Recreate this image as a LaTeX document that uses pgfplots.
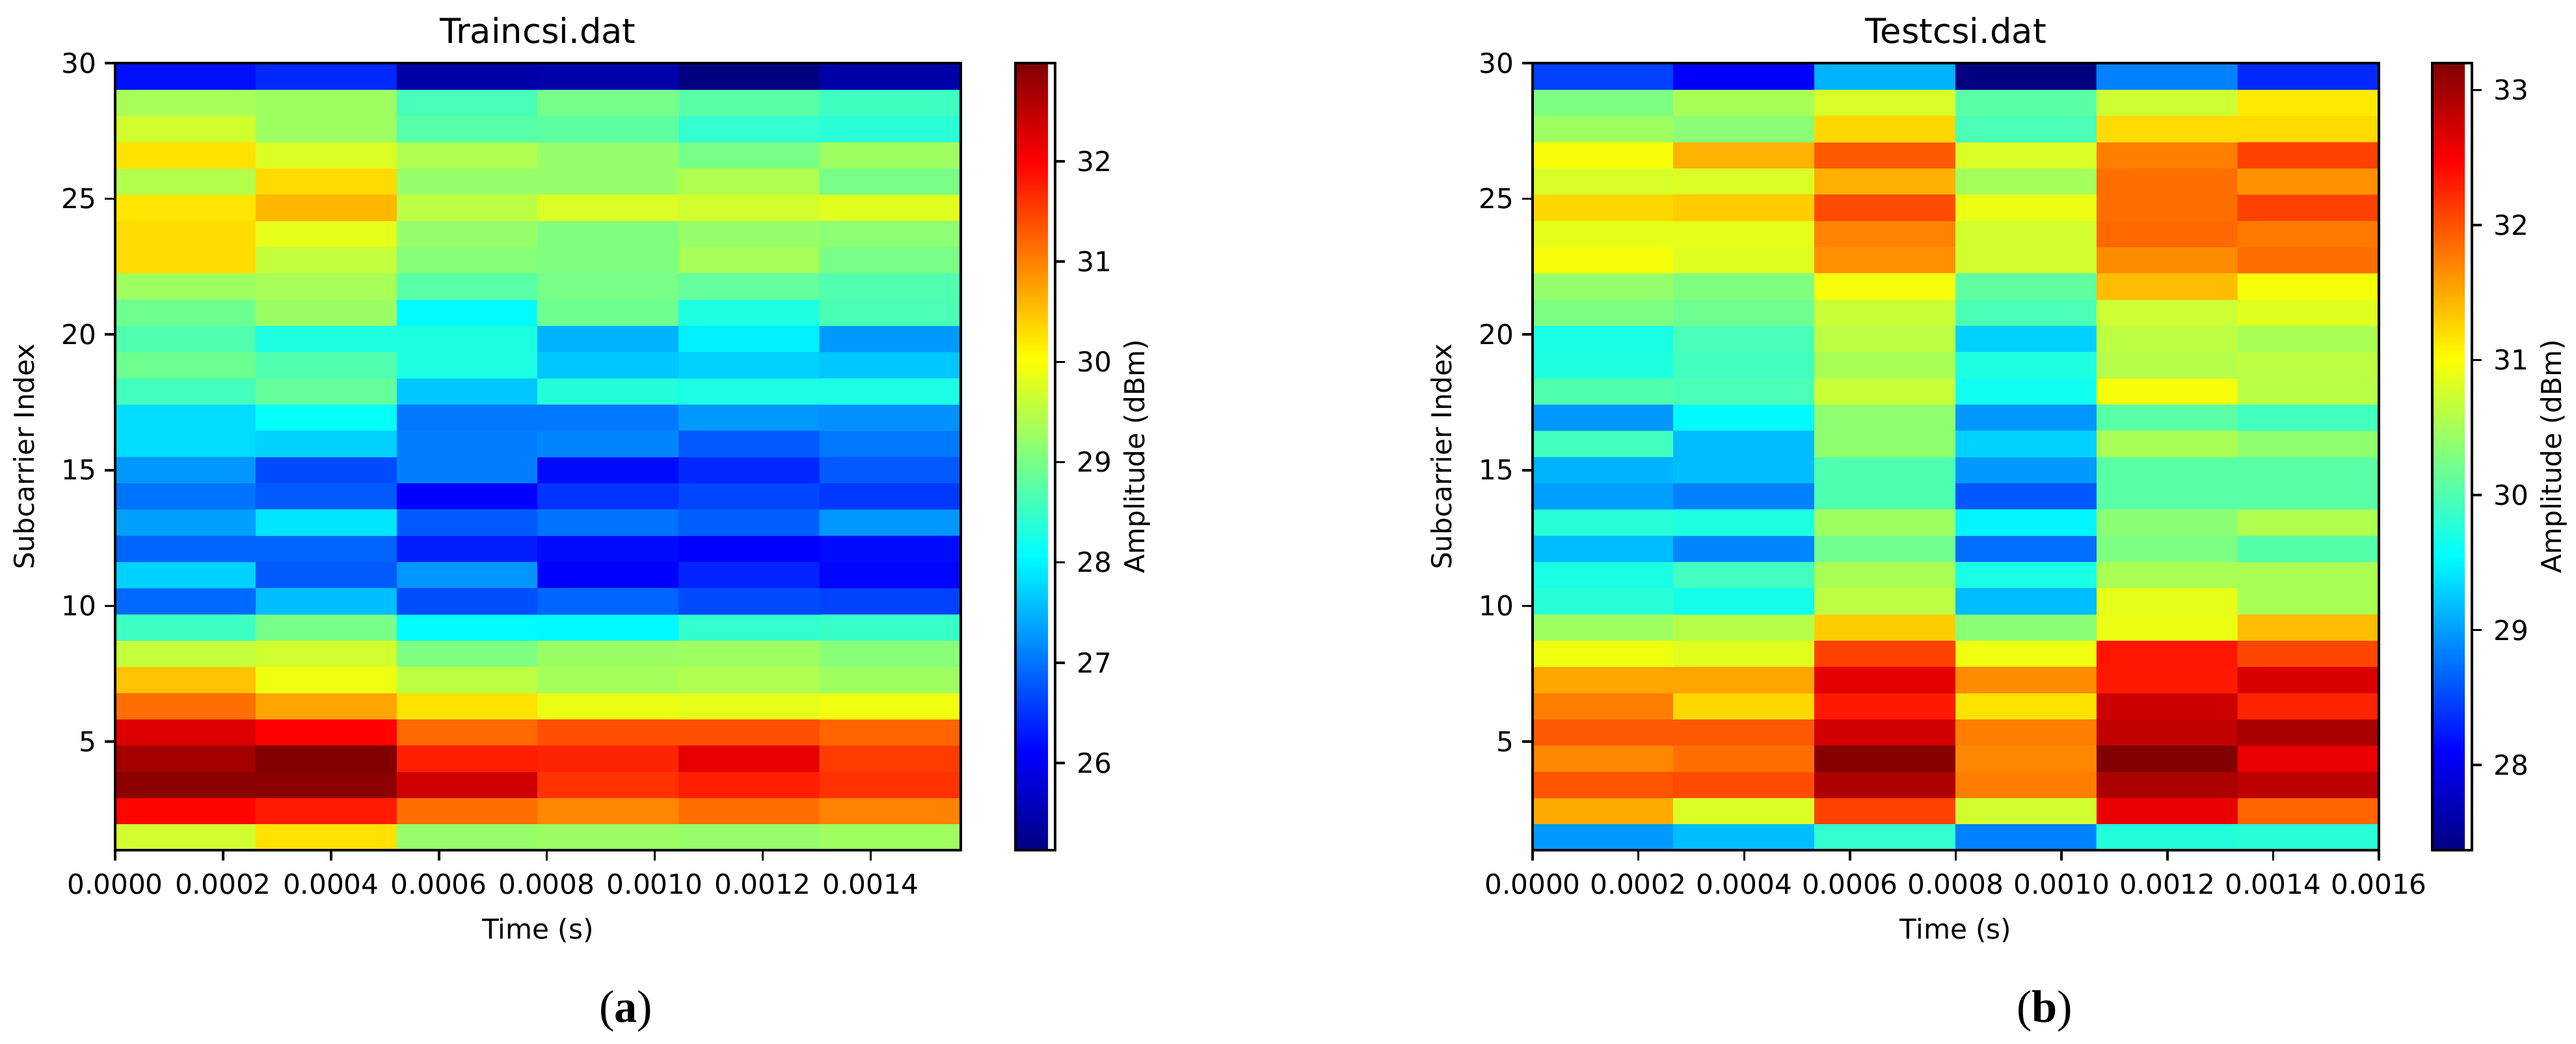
\documentclass[border=0pt]{standalone}
\usepackage{pgfplots}
\pgfplotsset{compat=1.18}
\usepackage{fontspec}
\setmainfont{DejaVu Sans}
\newfontfamily\capfont{Liberation Serif}

\pgfplotsset{
  heat/.style={
    scale only axis, anchor=south west,
    height=12.10cm,
    ymin=1, ymax=30,
    axis on top,
    colormap/jet,
    ytick={5,10,15,20,25,30},
    scaled x ticks=false,
    /pgf/number format/assume math mode=true,
    tick label style={font=\fontsize{12}{14}\selectfont},
    xticklabel style={yshift=-0.08cm, /pgf/number format/.cd, fixed, fixed zerofill, precision=4},
    tick align=outside, tick pos=left,
    major tick length=0.16cm,
    axis line style={line width=1pt},
    every tick/.style={line width=1pt, black},
    every axis title/.style={font=\fontsize{15}{18}\selectfont, at={(axis description cs:0.5,1)}, anchor=base, yshift=0.30cm},
    xlabel={Time (s)}, ylabel={Subcarrier Index},
    every axis x label/.style={at={(axis description cs:0.5,0)}, anchor=center, yshift=-1.23cm, font=\fontsize{12}{14}\selectfont},
    every axis y label/.style={at={(axis description cs:0,0.5)}, xshift=-1.40cm, rotate=90, anchor=center, font=\fontsize{12}{14}\selectfont},
    colorbar right,
    colorbar shift/.style={},
  },
  cbar/.style={
    at={(parent axis.north east)}, anchor=north west,
    scale only axis, width=0.61cm, height=12.10cm,
    ytick pos=right, yticklabel pos=right,
    tick align=outside, major tick length=0.15cm,
    axis line style={line width=1pt},
    every tick/.style={line width=1pt, black},
    /pgf/number format/assume math mode=true,
    yticklabel style={font=\fontsize{12}{14}\selectfont, xshift=0.06cm},
    ylabel={Amplitude (dBm)},
    every axis y label/.style={at={(axis description cs:1,0.5)}, xshift=1.26cm, rotate=90, anchor=center, font=\fontsize{12}{14}\selectfont},
  },
}

\begin{document}
\begin{tikzpicture}
\path[use as bounding box] (0,0) rectangle (39.6cm,16.04cm);

% ---------------- (a) Traincsi.dat ----------------
\begin{axis}[heat,
  at={(1.77cm,2.97cm)}, width=13.0cm,
  xmin=0, xmax=0.001567,
  xtick={0,0.0002,0.0004,0.0006,0.0008,0.0010,0.0012,0.0014},
  title={Traincsi.dat},
  point meta min=25.13, point meta max=32.98,
  colorbar style={cbar, xshift=0.84cm, ytick={26,27,28,29,30,31,32}},
]
\addplot[matrix plot*, mesh/cols=6, point meta=explicit]
  table[row sep=\\, x expr={(\thisrow{c}+0.5)*0.00026117}, y expr={1+(\thisrow{j}+0.5)*29/30}, meta=v]{
c j v\\
0 0 29.68\\ 1 0 30.26\\ 2 0 29.23\\ 3 0 29.27\\ 4 0 29.23\\ 5 0 29.29\\
0 1 31.96\\ 1 1 31.80\\ 2 1 31.15\\ 3 1 30.96\\ 4 1 31.15\\ 5 1 31.00\\
0 2 32.89\\ 1 2 32.89\\ 2 2 32.35\\ 3 2 31.61\\ 4 2 31.76\\ 5 2 31.61\\
0 3 32.70\\ 1 3 32.98\\ 2 3 31.76\\ 3 3 31.72\\ 4 3 32.18\\ 5 3 31.54\\
0 4 32.27\\ 1 4 31.98\\ 2 4 31.19\\ 3 4 31.39\\ 4 4 31.39\\ 5 4 31.23\\
0 5 31.15\\ 1 5 30.73\\ 2 5 30.26\\ 3 5 29.88\\ 4 5 29.84\\ 5 5 29.92\\
0 6 30.50\\ 1 6 29.92\\ 2 6 29.53\\ 3 6 29.35\\ 4 6 29.42\\ 5 6 29.29\\
0 7 29.58\\ 1 7 29.68\\ 2 7 29.04\\ 3 7 29.27\\ 4 7 29.29\\ 5 7 29.11\\
0 8 28.54\\ 1 8 29.00\\ 2 8 28.05\\ 3 8 28.03\\ 4 8 28.46\\ 5 8 28.50\\
0 9 26.92\\ 1 9 27.57\\ 2 9 26.72\\ 3 9 26.88\\ 4 9 26.69\\ 5 9 26.61\\
0 10 27.73\\ 1 10 26.80\\ 2 10 27.27\\ 3 10 26.11\\ 4 10 26.38\\ 5 10 26.15\\
0 11 26.88\\ 1 11 26.88\\ 2 11 26.34\\ 3 11 26.19\\ 4 11 26.11\\ 5 11 26.19\\
0 12 27.34\\ 1 12 27.88\\ 2 12 26.80\\ 3 12 27.00\\ 4 12 26.84\\ 5 12 27.27\\
0 13 27.00\\ 1 13 26.80\\ 2 13 26.11\\ 3 13 26.50\\ 4 13 26.65\\ 5 13 26.54\\
0 14 27.27\\ 1 14 26.69\\ 2 14 27.08\\ 3 14 26.19\\ 4 14 26.42\\ 5 14 26.80\\
0 15 27.81\\ 1 15 27.73\\ 2 15 27.08\\ 3 15 27.15\\ 4 15 26.80\\ 5 15 27.04\\
0 16 27.81\\ 1 16 28.11\\ 2 16 27.04\\ 3 16 27.04\\ 4 16 27.30\\ 5 16 27.23\\
0 17 28.58\\ 1 17 28.84\\ 2 17 27.64\\ 3 17 28.35\\ 4 17 28.27\\ 5 17 28.27\\
0 18 28.92\\ 1 18 28.69\\ 2 18 28.30\\ 3 18 27.64\\ 4 18 27.73\\ 5 18 27.64\\
0 19 28.69\\ 1 19 28.30\\ 2 19 28.30\\ 3 19 27.49\\ 4 19 27.96\\ 5 19 27.30\\
0 20 28.92\\ 1 20 29.27\\ 2 20 28.05\\ 3 20 28.92\\ 4 20 28.30\\ 5 20 28.65\\
0 21 29.29\\ 1 21 29.37\\ 2 21 28.76\\ 3 21 29.00\\ 4 21 28.84\\ 5 21 28.69\\
0 22 30.31\\ 1 22 29.58\\ 2 22 29.11\\ 3 22 29.06\\ 4 22 29.37\\ 5 22 29.00\\
0 23 30.31\\ 1 23 29.84\\ 2 23 29.23\\ 3 23 29.06\\ 4 23 29.23\\ 5 23 29.15\\
0 24 30.23\\ 1 24 30.59\\ 2 24 29.53\\ 3 24 29.76\\ 4 24 29.68\\ 5 24 29.80\\
0 25 29.45\\ 1 25 30.31\\ 2 25 29.23\\ 3 25 29.23\\ 4 25 29.42\\ 5 25 29.00\\
0 26 30.26\\ 1 26 29.76\\ 2 26 29.42\\ 3 26 29.23\\ 4 26 29.00\\ 5 26 29.29\\
0 27 29.68\\ 1 27 29.29\\ 2 27 28.74\\ 3 27 28.80\\ 4 27 28.46\\ 5 27 28.38\\
0 28 29.37\\ 1 28 29.29\\ 2 28 28.62\\ 3 28 28.98\\ 4 28 28.76\\ 5 28 28.54\\
0 29 26.23\\ 1 29 26.43\\ 2 29 25.44\\ 3 29 25.48\\ 4 29 25.13\\ 5 29 25.44\\
};
\end{axis}

% ---------------- (b) Testcsi.dat ----------------
\begin{axis}[heat,
  at={(23.56cm,2.97cm)}, width=13.01cm,
  xmin=0, xmax=0.0016,
  xtick={0,0.0002,0.0004,0.0006,0.0008,0.0010,0.0012,0.0014,0.0016},
  title={Testcsi.dat},
  point meta min=27.37, point meta max=33.20,
  colorbar style={cbar, xshift=0.82cm, ytick={28,29,30,31,32,33}},
]
\addplot[matrix plot*, mesh/cols=6, point meta=explicit]
  table[row sep=\\, x expr={(\thisrow{c}+0.5)*0.00026667}, y expr={1+(\thisrow{j}+0.5)*29/30}, meta=v]{
c j v\\
0 0 28.98\\ 1 0 29.18\\ 2 0 29.84\\ 3 0 28.84\\ 4 0 29.76\\ 5 0 29.78\\
0 1 31.50\\ 1 1 30.81\\ 2 1 32.10\\ 3 1 30.75\\ 4 1 32.59\\ 5 1 31.90\\
0 2 31.99\\ 1 2 32.04\\ 2 2 32.94\\ 3 2 31.75\\ 4 2 32.94\\ 5 2 32.85\\
0 3 31.70\\ 1 3 31.84\\ 2 3 33.16\\ 3 3 31.70\\ 4 3 33.20\\ 5 3 32.59\\
0 4 31.96\\ 1 4 31.96\\ 2 4 32.73\\ 3 4 31.75\\ 4 4 32.82\\ 5 4 32.97\\
0 5 31.75\\ 1 5 31.24\\ 2 5 32.33\\ 3 5 31.18\\ 4 5 32.76\\ 5 5 32.27\\
0 6 31.53\\ 1 6 31.53\\ 2 6 32.62\\ 3 6 31.67\\ 4 6 32.33\\ 5 6 32.68\\
0 7 30.93\\ 1 7 30.84\\ 2 7 32.10\\ 3 7 30.93\\ 4 7 32.35\\ 5 7 32.07\\
0 8 30.46\\ 1 8 30.59\\ 2 8 31.30\\ 3 8 30.35\\ 4 8 30.90\\ 5 8 31.39\\
0 9 29.78\\ 1 9 29.67\\ 2 9 30.63\\ 3 9 29.18\\ 4 9 30.87\\ 5 9 30.53\\
0 10 29.70\\ 1 10 29.93\\ 2 10 30.53\\ 3 10 29.70\\ 4 10 30.53\\ 5 10 30.53\\
0 11 29.18\\ 1 11 28.87\\ 2 11 30.19\\ 3 11 28.73\\ 4 11 30.27\\ 5 11 30.04\\
0 12 29.78\\ 1 12 29.73\\ 2 12 30.46\\ 3 12 29.50\\ 4 12 30.35\\ 5 12 30.56\\
0 13 29.01\\ 1 13 28.84\\ 2 13 30.01\\ 3 13 28.61\\ 4 13 30.07\\ 5 13 30.07\\
0 14 29.12\\ 1 14 29.18\\ 2 14 30.01\\ 3 14 28.98\\ 4 14 30.07\\ 5 14 30.07\\
0 15 29.93\\ 1 15 29.18\\ 2 15 30.38\\ 3 15 29.30\\ 4 15 30.53\\ 5 15 30.38\\
0 16 28.96\\ 1 16 29.53\\ 2 16 30.38\\ 3 16 28.96\\ 4 16 30.07\\ 5 16 29.93\\
0 17 30.01\\ 1 17 29.98\\ 2 17 30.70\\ 3 17 29.64\\ 4 17 30.96\\ 5 17 30.61\\
0 18 29.73\\ 1 18 29.93\\ 2 18 30.53\\ 3 18 29.73\\ 4 18 30.59\\ 5 18 30.63\\
0 19 29.70\\ 1 19 29.96\\ 2 19 30.63\\ 3 19 29.30\\ 4 19 30.63\\ 5 19 30.53\\
0 20 30.27\\ 1 20 30.19\\ 2 20 30.70\\ 3 20 29.98\\ 4 20 30.73\\ 5 20 30.84\\
0 21 30.41\\ 1 21 30.29\\ 2 21 30.96\\ 3 21 30.10\\ 4 21 31.39\\ 5 21 30.96\\
0 22 30.96\\ 1 22 30.84\\ 2 22 31.64\\ 3 22 30.75\\ 4 22 31.67\\ 5 22 31.84\\
0 23 30.87\\ 1 23 30.87\\ 2 23 31.73\\ 3 23 30.75\\ 4 23 31.87\\ 5 23 31.78\\
0 24 31.24\\ 1 24 31.30\\ 2 24 32.04\\ 3 24 30.90\\ 4 24 31.84\\ 5 24 32.10\\
0 25 30.79\\ 1 25 30.81\\ 2 25 31.47\\ 3 25 30.50\\ 4 25 31.84\\ 5 25 31.64\\
0 26 30.96\\ 1 26 31.45\\ 2 26 31.96\\ 3 26 30.81\\ 4 26 31.75\\ 5 26 32.10\\
0 27 30.46\\ 1 27 30.35\\ 2 27 31.24\\ 3 27 29.98\\ 4 27 31.22\\ 5 27 31.22\\
0 28 30.27\\ 1 28 30.53\\ 2 28 30.79\\ 3 28 30.07\\ 4 28 30.73\\ 5 28 31.13\\
0 29 28.47\\ 1 29 28.08\\ 2 29 29.12\\ 3 29 27.37\\ 4 29 28.84\\ 5 29 28.33\\
};
\end{axis}

\node[font=\capfont\fontsize{20}{24}\selectfont] at (9.62cm,0.49cm) {(\textbf{a})};
\node[font=\capfont\fontsize{20}{24}\selectfont] at (31.43cm,0.49cm) {(\textbf{b})};
\end{tikzpicture}
\end{document}
